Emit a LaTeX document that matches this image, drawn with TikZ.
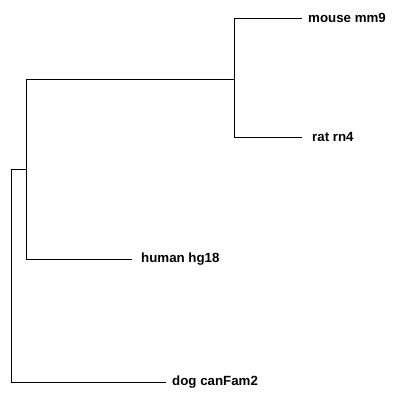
\documentclass[tikz,border=0pt]{standalone}
\usepackage{fontspec}
\setmainfont{Liberation Sans}
\usetikzlibrary{positioning}

\tikzset{
  leaflabel/.style={anchor=west, inner sep=0pt, font=\bfseries\fontsize{13.3}{15}\selectfont},
  branch/.style={line width=1pt}
}

\begin{document}
\begin{tikzpicture}[x=1pt,y=1pt,yscale=-1,xscale=1]
            \useasboundingbox (0,0) rectangle (400,400);

            %Internal nodes
            \coordinate (root) at (11,169);
            \coordinate (anc) at (26,169);
            \coordinate (rodent) at (234,79);

            %Branch ends
            \coordinate (mouseend) at (302,18);
            \coordinate (ratend) at (302,137);
            \coordinate (humanend) at (132,259);
            \coordinate (dogend) at (166,382);

            % Text Node
            \node [leaflabel] (mouse) at (308,18) {mouse mm9};
            % Text Node
            \node [leaflabel] (rat) at (312,137) {rat rn4};
            % Text Node
            \node [leaflabel] (human) at (141,259) {human hg18};
            % Text Node
            \node [leaflabel] (dog) at (172,382) {dog canFam2};

            %Straight Lines
            \draw [branch] (anc) -- (root) |- (dogend);
            \draw [branch] (anc) |- (rodent);
            \draw [branch] (anc) |- (humanend);
            \draw [branch] (rodent) |- (mouseend);
            \draw [branch] (rodent) |- (ratend);

\end{tikzpicture}
\end{document}
